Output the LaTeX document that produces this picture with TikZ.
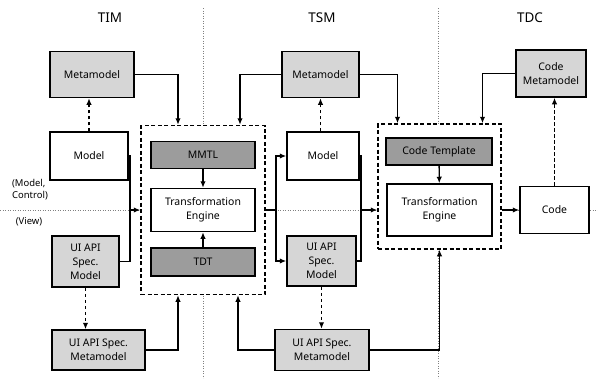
\documentclass[tikz,border=0pt]{standalone}
\usepackage{fontspec}
\setmainfont{Noto Sans}
\usetikzlibrary{arrows.meta}
\definecolor{metagray}{HTML}{D6D6D6}
\definecolor{toolgray}{HTML}{9C9C9C}

\begin{document}
\begin{tikzpicture}[x=1bp, y=-1bp,
        box/.style={draw, line width=1.5bp, fill=white, align=center, inner sep=0pt,
            font=\fontsize{10.5}{14}\selectfont},
        lite/.style={box, fill=metagray},
        dark/.style={box, fill=toolgray},
        group/.style={draw, line width=1.5bp, dash pattern=on 4bp off 2.5bp, fill=white, inner sep=0pt},
        title/.style={font=\fontsize{13.5}{15}\selectfont},
        side/.style={align=left, inner sep=0pt, font=\fontsize{9.5}{12}\selectfont},
        line/.style={line width=1.3bp},
        link/.style={line, -{Latex[length=6.5bp,width=5.5bp]}},
        dep/.style={link, line width=1.5bp, dash pattern=on 3.5bp off 2.5bp},
        zone/.style={gray, line width=0.6bp, dash pattern=on 1bp off 1.5bp}
    ]
        \useasboundingbox (0,0) rectangle (598,378);
        % zone borders
        \draw[zone] (203,8) -- (203,378);
        \draw[zone] (438,8) -- (438,378);
        \draw[zone] (0,210) -- (598,210);

        \node[title] (TIM) at (110,18) {TIM};
        \node[title] (TSM) at (322,18) {TSM};
        \node[title] (TDC) at (530,18) {TDC};
        \node[side] (MC) at (30,190) {(Model,\\Control)};
        \node[side] (View) at (29,222) {(View)};

        % transformation groups
        \node[group, minimum width=124bp, minimum height=169bp] (TransA) at (203,210) {};
        \node[group, minimum width=123bp, minimum height=125bp] (TransB) at (439.5,186.5) {};
        \node[dark, minimum width=104bp, minimum height=27bp] (MMTL) at (203,155) {MMTL};
        \node[box, minimum width=104bp, minimum height=43bp] (EngA) at (203,210) {Transformation\\Engine};
        \node[dark, minimum width=104bp, minimum height=28bp] (TDT) at (203,262) {TDT};
        \node[dark, minimum width=106bp, minimum height=27bp] (Tmpl) at (439,151.5) {Code Template};
        \node[box, minimum width=105bp, minimum height=52bp] (EngB) at (439.5,210) {Transformation\\Engine};

        % TIM
        \node[lite, minimum width=84bp, minimum height=46bp] (MetaA) at (92,74.5) {Metamodel};
        \node[box, minimum width=78bp, minimum height=48bp] (ModelA) at (89,156) {Model};
        \node[lite, minimum width=67bp, minimum height=51bp] (UiModelA) at (85.5,261.5) {UI API\\Spec.\\Model};
        \node[lite, minimum width=93bp, minimum height=40bp] (UiMetaA) at (98.5,350) {UI API Spec.\\Metamodel};
        % TSM
        \node[lite, minimum width=77bp, minimum height=46bp] (MetaB) at (320.5,74.5) {Metamodel};
        \node[box, minimum width=72bp, minimum height=48bp] (ModelB) at (323,156) {Model};
        \node[lite, minimum width=69bp, minimum height=50bp] (UiModelB) at (321.5,261) {UI API\\Spec.\\Model};
        \node[lite, minimum width=94bp, minimum height=41bp] (UiMetaB) at (322,350) {UI API Spec.\\Metamodel};
        % TDC
        \node[lite, minimum width=70bp, minimum height=47bp] (MetaC) at (551,73.5) {Code\\Metamodel};
        \node[box, minimum width=69bp, minimum height=47bp] (Code) at (554.5,210) {Code};

        \coordinate (JoinA) at (130,210);
        \coordinate (JoinB) at (276,210);
        \coordinate (JoinC) at (361,210);

        \draw[link] (MetaA.east) -| ([xshift=-25bp]TransA.north);
        \draw[link] (MetaB.west) -| ([xshift=37bp]TransA.north);
        \draw[dep] (ModelA.north) -- (ModelA.north |- MetaA.south);
        \draw[dep] (UiModelA.south) -- (UiModelA.south |- UiMetaA.north);
        \draw[line] (ModelA.east) -| (JoinA);
        \draw[link] (UiModelA.east) -| (JoinA) -- (JoinA -| TransA.west);
        \draw[link] (UiMetaA.east) -| ([xshift=-25bp]TransA.south);
        \draw[link] (UiMetaB.west) -| ([xshift=35bp]TransA.south);
        \draw[link] (MMTL) -- (EngA);
        \draw[link] (TDT) -- (EngA);

        \draw[line] (TransA.east) -- (JoinB);
        \draw[link] (JoinB) |- (ModelB.west);
        \draw[link] (JoinB) |- (UiModelB.west);
        \draw[dep] (ModelB.north -| MetaB) -- (MetaB.south);
        \draw[dep] (UiModelB.south) -- (UiModelB.south |- UiMetaB.north);
        \draw[line] (ModelB.east) -| (JoinC);
        \draw[link] (UiModelB.east) -| (JoinC) -- (JoinC -| TransB.west);
        \draw[link] (MetaB.east) -| ([xshift=-42bp]TransB.north);
        \draw[link] (MetaC.west) -| ([xshift=43bp]TransB.north);
        \draw[link] (Tmpl) -- (EngB);
        \draw[link] (UiMetaB.east) -| (TransB.south);
        \draw[link] (TransB.east |- Code.west) -- (Code.west);
        \draw[dep] (Code.north) -- (Code.north |- MetaC.south);
    \end{tikzpicture}
\end{document}
